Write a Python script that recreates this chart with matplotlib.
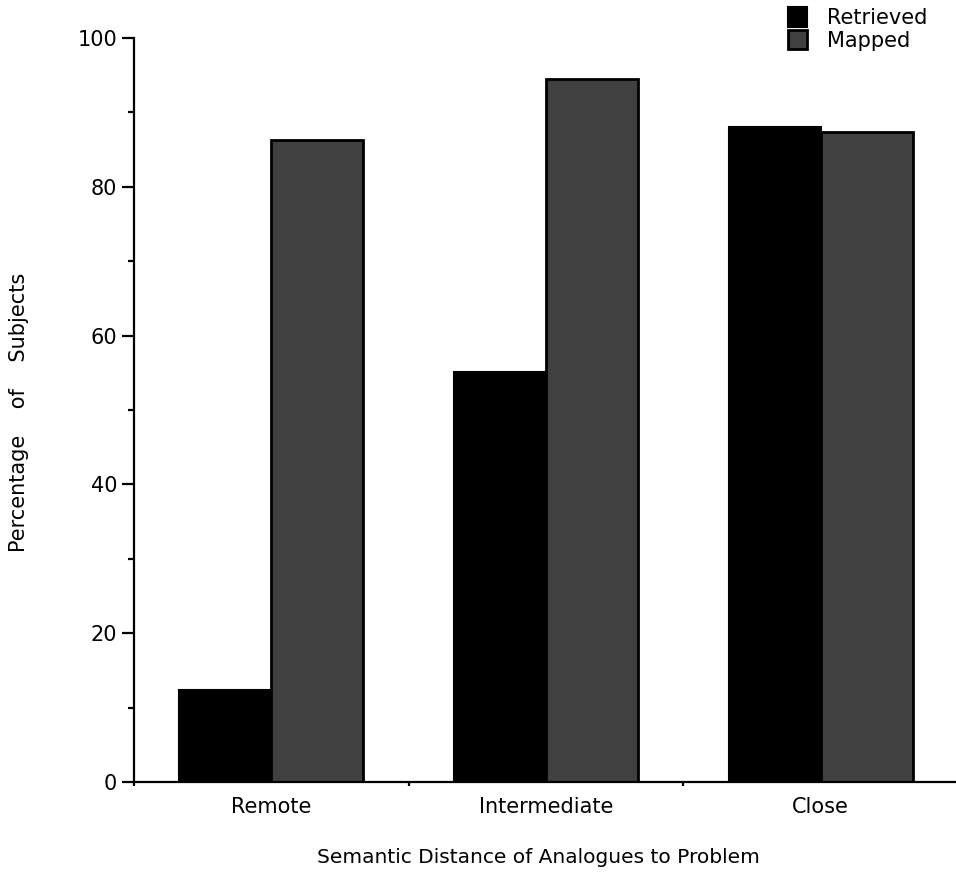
import numpy as np
import matplotlib.pyplot as plt
from matplotlib.patches import Patch
from matplotlib.ticker import MultipleLocator, FixedLocator

# Data
categories = ["Remote", "Intermediate", "Close"]
retrieved = [12.3, 55.1, 88.0]
mapped = [86.3, 94.5, 87.3]
series_names = ["Retrieved", "Mapped"]

plt.rcParams['font.family'] = ['DejaVu Sans']
font_size = 15

fig = plt.figure(figsize=(9.56, 8.72), dpi=100)
# axes stretches a little past the right edge, like the original
ax = fig.add_axes([134 / 956, 90 / 872, 824 / 956, 744 / 872])

x = np.arange(len(categories))
width = 0.335
ax.bar(x - width / 2, retrieved, width, color='black', edgecolor='black', linewidth=1.5)
ax.bar(x + width / 2, mapped, width, color='#404040', edgecolor='black', linewidth=2)

ax.set_xlim(-0.5, len(categories) - 0.5)
ax.set_ylim(0, 100)

for side in ['top', 'right']:
    ax.spines[side].set_visible(False)
for side in ['left', 'bottom']:
    ax.spines[side].set_linewidth(1.6)

# y ticks: labelled every 20, minor every 10
ax.yaxis.set_major_locator(MultipleLocator(20))
ax.yaxis.set_minor_locator(MultipleLocator(10))
ax.tick_params(axis='y', which='major', direction='out', length=9, width=1.6,
               labelsize=font_size, pad=3)
ax.tick_params(axis='y', which='minor', direction='out', length=4.5, width=1.6)

# x: labels at centres, small ticks at category boundaries
ax.set_xticks(x)
ax.set_xticklabels(categories)
ax.xaxis.set_minor_locator(FixedLocator(np.arange(-0.5, len(categories), 1.0)))
ax.tick_params(axis='x', which='major', length=0, labelsize=font_size, pad=11)
ax.tick_params(axis='x', which='minor', direction='out', length=3, width=1.6)

fig.text(538 / 956, 1 - 857 / 872, "Semantic Distance of Analogues to Problem",
         ha='center', va='center', fontsize=14.5)
fig.text(19 / 956, 1 - 412 / 872, "Percentage    of    Subjects",
         ha='center', va='center', rotation=90, fontsize=font_size)

handles = [Patch(facecolor='black', edgecolor='black', linewidth=1.5),
           Patch(facecolor='#404040', edgecolor='black', linewidth=2)]
fig.legend(handles, series_names, loc='upper left',
           bbox_to_anchor=(775 / 956, 1.006), frameon=False, fontsize=font_size,
           handlelength=0.95, handleheight=1.05, handletextpad=0.95,
           labelspacing=0.1, borderaxespad=0.2)

fig.savefig("out.png", dpi=100)
